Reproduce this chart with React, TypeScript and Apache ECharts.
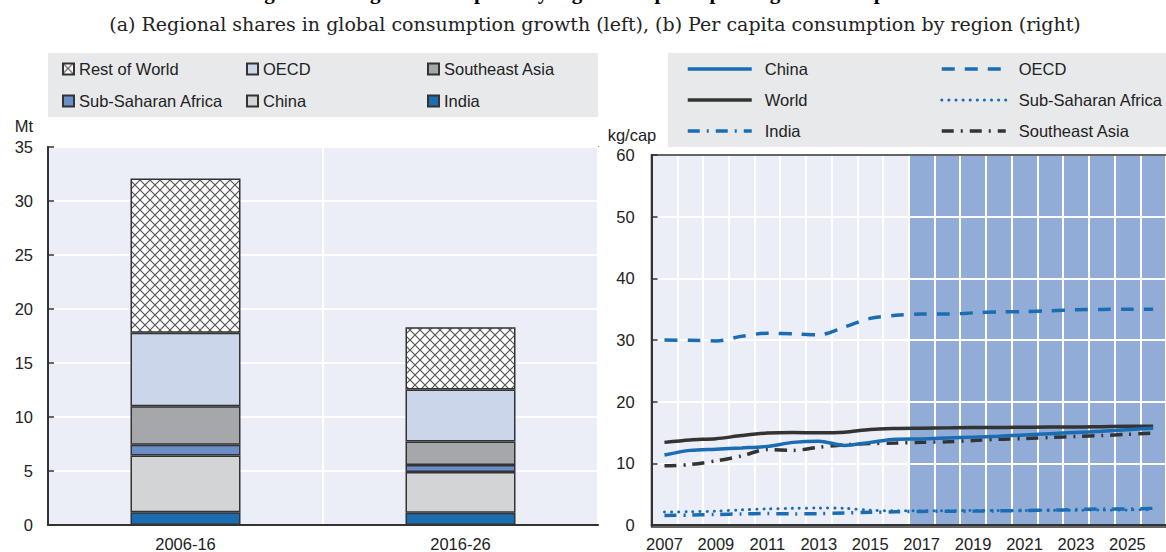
import React, { useEffect, useRef } from 'react';
import * as echarts from 'echarts';

// ---------- Data: left panel (Mt) ----------
const periods = ['2006-16', '2016-26'];
const indiaGrowth = [1.17, 1.13];
const chinaGrowth = [5.27, 3.77];
const ssaGrowth = [1.0, 0.65];
const seaGrowth = [3.55, 2.18];
const oecdGrowth = [6.8, 4.82];
const rowGrowth = [14.3, 5.75];

// ---------- Data: right panel (kg/cap) ----------
const years = ['2007', '2008', '2009', '2010', '2011', '2012', '2013', '2014', '2015', '2016',
  '2017', '2018', '2019', '2020', '2021', '2022', '2023', '2024', '2025', '2026'];
const projectionStartYear = 2017;
const chinaPc = [11.35, 12.1, 12.3, 12.5, 12.75, 13.4, 13.6, 12.9, 13.4, 13.9, 13.95, 14.1, 14.25, 14.4, 14.6, 14.8, 15.0, 15.2, 15.45, 15.7];
const worldPc = [13.4, 13.8, 14.0, 14.5, 14.9, 15.0, 14.95, 15.05, 15.5, 15.65, 15.7, 15.75, 15.8, 15.8, 15.85, 15.9, 15.9, 15.95, 16.0, 16.0];
const indiaPc = [1.55, 1.6, 1.7, 1.8, 1.85, 1.8, 1.85, 1.95, 2.05, 2.15, 2.2, 2.25, 2.25, 2.3, 2.35, 2.4, 2.5, 2.6, 2.6, 2.7];
const oecdPc = [30.0, 29.95, 29.85, 30.6, 31.1, 31.0, 30.85, 32.1, 33.5, 34.0, 34.2, 34.2, 34.4, 34.55, 34.6, 34.75, 34.9, 34.95, 35.0, 35.0];
const ssaPc = [2.1, 2.15, 2.25, 2.45, 2.6, 2.7, 2.75, 2.7, 2.4, 2.3, 2.3, 2.3, 2.35, 2.35, 2.35, 2.4, 2.4, 2.45, 2.45, 2.5];
const seaPc = [9.6, 9.8, 10.4, 11.2, 12.25, 12.1, 12.6, 13.0, 13.2, 13.3, 13.4, 13.5, 13.7, 13.9, 14.0, 14.2, 14.35, 14.5, 14.7, 14.9];

const titleText = 'Figure 4.4. Sugar consumption by region and per capita sugar consumption';
const subtitleText = '(a) Regional shares in global consumption growth (left), (b) Per capita consumption by region (right)';

const SANS = "'Liberation Sans', Arial, sans-serif";
const SERIF = "'DejaVu Serif', 'Liberation Serif', serif";
const FS = 16.5;
const DARK = '#333333';
const TEXT = '#222222';
const BLUE = '#1a6db3';
const PLOT_BG = '#eceef7';
const LEGEND_BG = '#e8e9eb';

function makeHatch() {
  const c = document.createElement('canvas');
  c.width = 10;
  c.height = 10;
  const ctx = c.getContext('2d');
  if (ctx) {
    ctx.fillStyle = '#ffffff';
    ctx.fillRect(0, 0, 10, 10);
    ctx.strokeStyle = '#555555';
    ctx.lineWidth = 1.2;
    ctx.beginPath();
    ctx.moveTo(0, 0); ctx.lineTo(10, 10);
    ctx.moveTo(10, 0); ctx.lineTo(0, 10);
    ctx.stroke();
  }
  return c;
}

export default function App() {
  const leftRef = useRef<HTMLDivElement>(null);
  const rightRef = useRef<HTMLDivElement>(null);

  useEffect(() => {
    if (!leftRef.current || !rightRef.current) return;
    const left = echarts.init(leftRef.current, null, { renderer: 'svg' });
    const right = echarts.init(rightRef.current, null, { renderer: 'svg' });

    const hatch = makeHatch();
    const legendText = { fontFamily: SANS, fontSize: FS, color: TEXT, lineHeight: 20 };
    const axisLabelStyle = { fontFamily: SANS, fontSize: FS, color: TEXT };
    const barBase = (name: string, data: number[], color: any) => ({
      name, type: 'bar', stack: 'total', barWidth: 110, data,
      itemStyle: { color, borderColor: DARK, borderWidth: 1.5 },
    });

    left.setOption({
      animation: false,
      graphic: [
        { type: 'text', x: 583, y: -19, style: { text: titleText, font: `bold 21px 'Liberation Serif', serif`, fill: '#000', align: 'center', verticalAlign: 'top' } },
        { type: 'text', x: 595, y: 24, style: { text: subtitleText, font: `19px ${SERIF}`, fill: TEXT, align: 'center', verticalAlign: 'middle' } },
        { type: 'rect', z: -10, shape: { x: 48, y: 53, width: 550, height: 64 }, style: { fill: LEGEND_BG } },
        { type: 'text', x: 24, y: 126, style: { text: 'Mt', font: `${FS}px ${SANS}`, fill: TEXT, align: 'center', verticalAlign: 'middle' } },
      ],
      legend: [
        { orient: 'vertical', left: 62, top: 59, padding: 0, itemWidth: 11, itemHeight: 11, itemGap: 12, icon: 'rect', data: ['Rest of World', 'Sub-Saharan Africa'], textStyle: legendText },
        { orient: 'vertical', left: 246, top: 59, padding: 0, itemWidth: 11, itemHeight: 11, itemGap: 12, icon: 'rect', data: ['OECD', 'China'], textStyle: legendText },
        { orient: 'vertical', left: 427, top: 59, padding: 0, itemWidth: 11, itemHeight: 11, itemGap: 12, icon: 'rect', data: ['Southeast Asia', 'India'], textStyle: legendText },
      ],
      grid: { left: 48, top: 147, width: 550, bottom: 25, show: true, backgroundColor: PLOT_BG, borderColor: DARK, borderWidth: 1.5 },
      xAxis: {
        type: 'category', data: periods,
        axisLine: { lineStyle: { color: DARK, width: 2 } },
        axisTick: { inside: true, length: 6, interval: 0, lineStyle: { color: DARK, width: 1.5 } },
        axisLabel: { ...axisLabelStyle, margin: 10 },
        splitLine: { show: true, interval: 0, lineStyle: { color: '#ffffff', width: 2 } },
      },
      yAxis: {
        type: 'value', min: 0, max: 35, interval: 5,
        axisLine: { show: true, lineStyle: { color: DARK, width: 2 } },
        axisTick: { show: true, inside: true, length: 6, lineStyle: { color: DARK, width: 1.5 } },
        axisLabel: { ...axisLabelStyle, margin: 15 },
        splitLine: { show: true, lineStyle: { color: '#ffffff', width: 2 } },
      },
      series: [
        barBase('India', indiaGrowth, '#1b6db0'),
        barBase('China', chinaGrowth, '#d3d4d6'),
        barBase('Sub-Saharan Africa', ssaGrowth, '#6a8fc8'),
        barBase('Southeast Asia', seaGrowth, '#a6a7aa'),
        barBase('OECD', oecdGrowth, '#cbd6ea'),
        barBase('Rest of World', rowGrowth, { image: hatch, repeat: 'repeat' }),
      ],
    });

    const shading = years.map((y) => (Number(y) >= projectionStartYear ? 60 : null));
    const lineBase = (name: string, data: number[], color: string, width: number, type: any, cap = 'butt') => ({
      name, type: 'line', data, symbol: 'none', showSymbol: false, smooth: 0.3, z: 3,
      lineStyle: { color, width, type, cap },
      itemStyle: { color },
    });
    const lineLegend = {
      orient: 'vertical', top: 59, padding: 0, itemWidth: 64, itemHeight: 20, itemGap: 11,
      textStyle: { ...legendText, padding: [0, 0, 0, 8] },
      itemStyle: { color: 'rgba(0,0,0,0)', borderWidth: 0, opacity: 0 },
      lineStyle: { width: 'inherit', type: 'inherit', cap: 'inherit' },
    };

    right.setOption({
      animation: false,
      graphic: [
        { type: 'rect', z: -10, shape: { x: 68, y: 53, width: 498, height: 94 }, style: { fill: LEGEND_BG } },
        { type: 'text', x: 32, y: 135, style: { text: 'kg/cap', font: `${FS}px ${SANS}`, fill: TEXT, align: 'center', verticalAlign: 'middle' } },
        { type: 'rect', z: 50, shape: { x: 51.6, y: 155, width: 520, height: 372 }, style: { fill: 'none', stroke: DARK, lineWidth: 1.5 } },
      ],
      legend: [
        { ...lineLegend, left: 86, data: ['China', 'World', 'India'] },
        { ...lineLegend, left: 340, data: ['OECD', 'Sub-Saharan Africa', 'Southeast Asia'] },
      ],
      grid: { left: 51.6, top: 155, width: 520, bottom: 25, show: true, z: -2, backgroundColor: PLOT_BG, borderColor: DARK, borderWidth: 1.5 },
      xAxis: {
        type: 'category', data: years, boundaryGap: true,
        axisLine: { lineStyle: { color: DARK, width: 2 } },
        axisTick: { inside: true, length: 6, interval: 0, lineStyle: { color: DARK, width: 1.5 } },
        axisLabel: { ...axisLabelStyle, margin: 10, interval: 1 },
        splitLine: { show: true, interval: 0, lineStyle: { color: '#ffffff', width: 2 } },
      },
      yAxis: {
        type: 'value', min: 0, max: 60, interval: 10,
        axisLine: { show: true, lineStyle: { color: DARK, width: 2 } },
        axisTick: { show: true, inside: true, length: 6, lineStyle: { color: DARK, width: 1.5 } },
        axisLabel: { ...axisLabelStyle, margin: 17 },
        splitLine: { show: true, lineStyle: { color: '#ffffff', width: 2 } },
      },
      series: [
        { name: 'Projection', type: 'bar', data: shading, barWidth: '100%', barCategoryGap: '0%', silent: true, z: -1, itemStyle: { color: '#91acd6' } },
        lineBase('Sub-Saharan Africa', ssaPc, BLUE, 3, [0.1, 7], 'round'),
        lineBase('India', indiaPc, BLUE, 3.5, [12, 7, 2, 7]),
        lineBase('Southeast Asia', seaPc, DARK, 3.5, [12, 7, 2, 7]),
        lineBase('OECD', oecdPc, BLUE, 3.5, [13, 10]),
        lineBase('World', worldPc, DARK, 3.5, 'solid'),
        lineBase('China', chinaPc, BLUE, 3.5, 'solid'),
      ],
    });

    return () => {
      left.dispose();
      right.dispose();
    };
  }, []);

  return (
    <div style={{ position: 'fixed', left: 0, top: 0, width: 1166, height: 552, background: '#ffffff' }}>
      <div ref={leftRef} style={{ position: 'absolute', left: 0, top: 0, width: 1166, height: 552 }} />
      <div ref={rightRef} style={{ position: 'absolute', left: 600, top: 0, width: 566, height: 552 }} />
    </div>
  );
}
